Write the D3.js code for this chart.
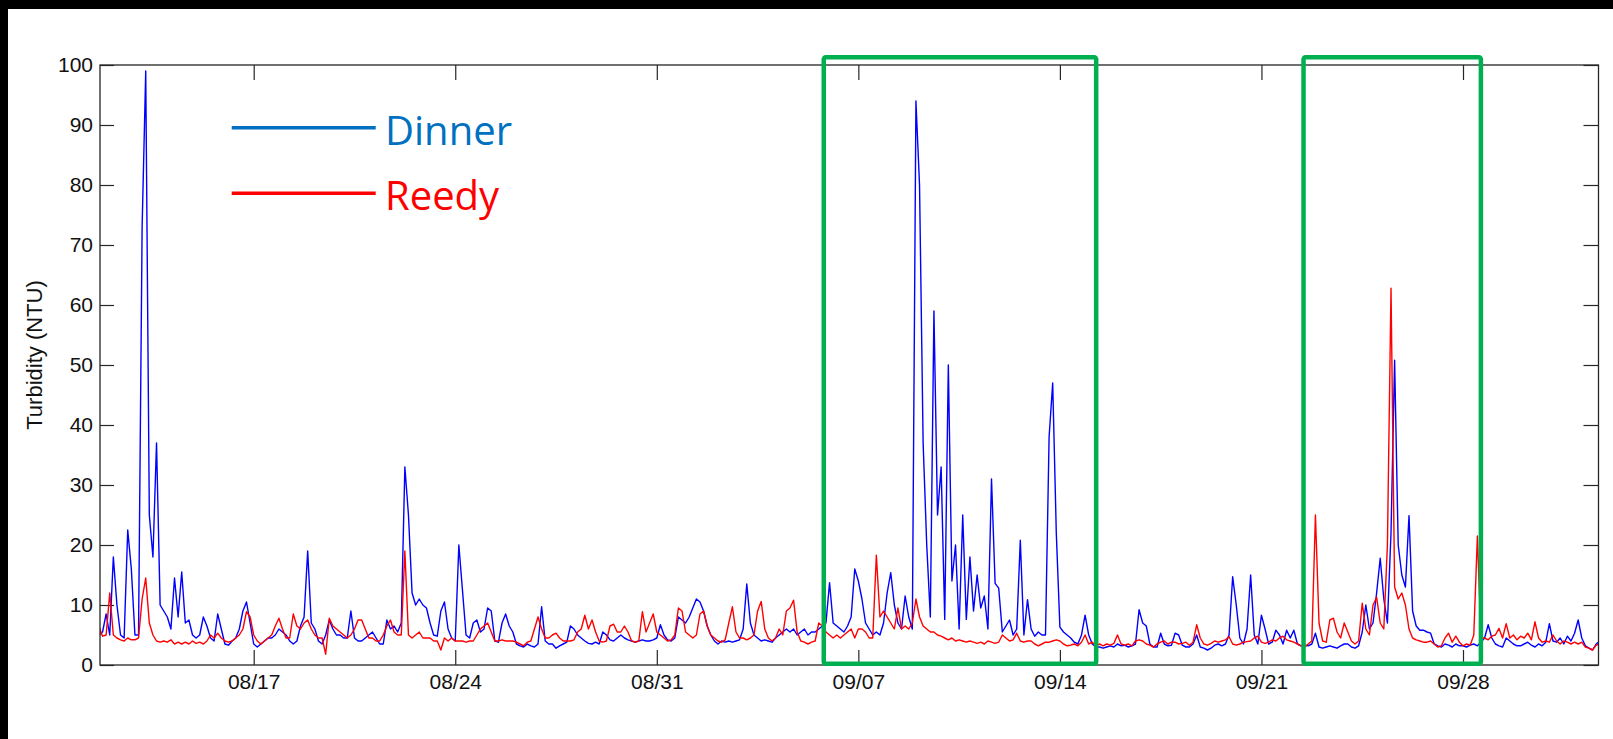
<!DOCTYPE html>
<html><head><meta charset="utf-8">
<script src="https://cdn.jsdelivr.net/npm/d3@7"></script>
<style>html,body{margin:0;padding:0;background:#000;overflow:hidden}</style>
</head><body>
<svg id="chart" width="1613" height="739"></svg>
<script>
// ---------------- data ----------------
const seriesNames = ["Dinner", "Reedy"];
const seriesColors = ["#0000ff", "#ff0000"];
const legendColors = ["#0070c0", "#ff0000"];
const startTime = new Date(2015, 7, 11, 15, 0);   // first sample
const stepHours = 3;                               // sampling interval
const xDomain = [new Date(2015, 7, 11, 15, 53), new Date(2015, 9, 2, 16, 57)];
const yTicks = [0, 10, 20, 30, 40, 50, 60, 70, 80, 90, 100];
const tickLabels = ["08/17", "08/24", "08/31", "09/07", "09/14", "09/21", "09/28"];
const highlightStarts = [new Date(2015, 8, 5, 19, 10), new Date(2015, 8, 22, 11, 5)];
const highlightEnds = [new Date(2015, 8, 15, 6, 15), new Date(2015, 8, 28, 14, 55)];
const highlightTop = 101.3, highlightBottom = 0.2;

const dinner = [
 5, 5.5, 8.5,
 5, 18, 10, 5, 4.5, 22.5, 16, 5,
 5, 73, 99, 25, 18, 37, 10, 9,
 8, 6, 14.5, 8, 15.5, 7, 7.5, 5,
 4.5, 5, 8, 6.5, 4.5, 4, 8.5, 6,
 3.5, 3.3, 4, 4.5, 6, 9, 10.5, 7,
 3.5, 3, 3.5, 4, 4.5, 4.5, 5, 6,
 5.5, 5, 4, 3.5, 4, 6.5, 8, 19,
 7, 6, 4, 3.5, 5, 7.5, 6, 5,
 5, 4.5, 4.5, 9, 4.5, 4, 4, 4.5,
 5, 5.5, 4.5, 3.5, 3.5, 7.5, 6, 6.5,
 5.5, 7, 33, 25, 12, 10, 11, 10,
 9.5, 7, 5, 4.8, 9, 10.5, 6, 4.5,
 4, 20, 12.5, 5, 4.5, 7, 7.5, 5.5,
 6, 9.5, 9, 4, 3.8, 7, 8.5, 6.5,
 5.5, 3.5, 3.2, 3, 3.5, 3.2, 3, 3.5,
 9.7, 4, 3.5, 3.5, 2.8, 3.2, 3.5, 3.8,
 6.5, 6, 5, 4.5, 4, 3.6, 3.5, 3.8,
 3.5, 5.5, 5, 4.2, 4, 4.5, 5, 4.5,
 4.2, 4, 3.8, 4, 4.2, 4, 4, 4.2,
 4.5, 6.7, 5, 4.2, 4, 4.5, 8, 7.5,
 7, 8, 9.5, 11, 10.5, 9, 6.5, 5,
 4, 3.5, 4, 3.8, 4, 3.8, 4, 4.2,
 6, 13.5, 7, 5, 4.5, 4, 4.2, 4,
 3.8, 4.5, 5, 5.5, 6, 5.5, 6, 5,
 5.5, 6, 5, 5.5, 5.5, 6, 6.5, 7,
 13.7, 7, 6.5, 6, 5.5, 6.5, 8, 16,
 14, 11, 7, 6, 5, 5.5, 5, 7,
 12, 15.4, 10, 7, 6, 11.5, 8, 6,
 94, 80, 37, 20, 8, 59, 25, 33,
 7.6, 50, 14, 20, 6, 25, 7.6, 18,
 9, 15, 9.5, 11.5, 6, 31, 13.6, 12.8,
 5.5, 6.5, 7.5, 5, 6, 20.8, 5, 10.9,
 6, 4.8, 5.5, 5, 5, 38, 47, 22,
 6.3, 5.5, 5, 4.5, 3.8, 3.5, 5, 8.3,
 5, 3.5, 3, 3, 2.8, 3, 3.2, 3,
 3.5, 3.2, 3.3, 3, 3.2, 3.5, 9.2, 7,
 6.5, 3.5, 3, 3, 5.3, 3.5, 3.2, 3.3,
 5.3, 5, 3.3, 3, 3, 3.5, 5, 3,
 2.8, 2.5, 2.8, 3.3, 3.5, 3.2, 3.5, 5,
 14.7, 10, 4.5, 3.5, 6, 15, 5, 3.5,
 8.3, 6, 3.5, 3.8, 5.8, 5, 3.5, 5.8,
 4.5, 5.8, 3.5, 3.2, 3.3, 3.2, 3.5, 5.3,
 3, 2.8, 3, 3.2, 3, 2.8, 3.2, 3.5,
 3.5, 3, 2.8, 3.2, 5.5, 10, 6, 7,
 12, 17.8, 11, 7, 22, 50.8, 20, 15,
 13, 24.9, 9, 6.5, 5.8, 5.8, 5.5, 5.3,
 3.5, 3.2, 3, 3.5, 3.3, 3, 3.5, 3.2,
 3.2, 3, 3.3, 3.5, 3.2, 3.8, 4.5, 6.7,
 4.5, 3.5, 3.2, 3, 4.5, 4, 3.5, 3.2,
 3.2, 3.5, 3.8, 3.3, 3, 3.5, 3.2, 3.8,
 6.9, 4, 3.8, 4.5, 3.5, 4.8, 4, 5.3,
 7.5, 4.5, 3.2, 2.8, 2.5, 3.5, 4
];

const reedy = [
 6.4, 4.8, 5,
 12, 5, 4.5, 4.2, 4, 4.5, 4.2, 4.2,
 4.5, 11, 14.5, 7, 5, 4, 3.8, 4,
 3.8, 4.2, 3.5, 3.8, 3.5, 3.8, 3.5, 4,
 3.6, 3.8, 3.5, 4, 5, 4.5, 5.3, 4.5,
 4, 3.8, 4, 4.5, 5, 6, 8.9, 8,
 5, 4, 3.5, 4, 4.5, 5, 6.5, 7.8,
 6, 4.5, 4.5, 8.5, 6.5, 6, 7, 7.5,
 6, 5, 4.5, 4.5, 1.8, 7.8, 6.5, 6,
 5.5, 5, 4.5, 5, 6, 7.5, 7.5, 6,
 4.5, 4.5, 4, 4, 5, 6.5, 7.5, 5.5,
 5, 5, 19, 5, 4.5, 5, 5.5, 4.5,
 4.5, 4.5, 4, 4, 2.5, 4.5, 4, 4.5,
 4, 4, 4, 3.8, 4, 4, 5, 6,
 6.5, 7, 5.5, 4, 4, 4.2, 4, 4,
 4, 3.8, 3.5, 3.2, 3.8, 4, 6, 8,
 6, 4.5, 4.5, 5, 5.3, 4.5, 4, 4,
 4, 4.2, 5.5, 6, 8.3, 6, 7.5, 5.5,
 4, 3.8, 4, 6.5, 6.8, 5.5, 5.5, 6.5,
 5.5, 4, 3.8, 4, 8.9, 5.5, 7, 8.5,
 5.5, 5, 4.5, 4, 4.2, 5, 9.5, 9,
 5.5, 5, 4.5, 5, 8.5, 9, 6.5, 5,
 4.5, 4, 3.8, 4.2, 7, 9.7, 5.5, 4.5,
 4.5, 4.2, 4.5, 5, 9, 10.6, 6, 4.5,
 4, 4.5, 6, 5, 9, 9.5, 10.8, 5.5,
 4, 3.8, 3.5, 3.8, 4, 7, 6.5, 5.5,
 5, 4.5, 5, 4.5, 5, 5.5, 6, 4.5,
 6, 6, 5.5, 4.5, 4.5, 18.3, 8, 9,
 8, 7, 6, 9.5, 6, 6.5, 6, 7,
 11, 8, 6.5, 6, 5.5, 5.5, 5, 4.8,
 4.5, 4.2, 4.5, 4, 4.2, 4, 3.8, 4,
 3.8, 3.6, 3.8, 3.5, 4, 3.8, 3.6, 3.8,
 5, 4.5, 4, 4.2, 5.3, 4, 3.8, 4,
 4, 3.5, 3.2, 3.5, 3.8, 3.8, 4, 4.2,
 4, 3.5, 3.2, 3.3, 3.5, 3.2, 3.8, 5,
 3.5, 3.8, 3.2, 3.5, 3.2, 3.5, 3.3, 3.6,
 5, 3.5, 3.3, 3.5, 3.2, 4, 4.2, 4,
 3.5, 3.3, 3, 3.5, 3.8, 4, 3.5, 3.8,
 3.8, 3.5, 3.6, 3.8, 3.3, 3.8, 6.7, 4.5,
 3.5, 3.3, 3.6, 4, 3.8, 4, 4.2, 4.7,
 3.5, 3.3, 3.5, 3.8, 3.9, 4, 4.5, 4.8,
 3.8, 3.6, 3.8, 4.2, 4, 4.5, 4.8, 4.2,
 4, 3.8, 3.5, 3.2, 3, 3.5, 4, 25,
 7, 4, 3.8, 7.5, 7.8, 5.5, 4.5, 7,
 5.5, 4, 3.5, 4, 10.3, 6, 5, 10,
 11.3, 7, 6, 20, 62.8, 13, 11, 12,
 10, 6, 4.5, 4.2, 4, 3.8, 3.8, 4,
 3.5, 3, 3.2, 4.5, 5.3, 3.8, 4.8, 3.8,
 3.2, 3.5, 3.3, 5, 21.5, 4.5, 4.5, 4.2,
 4.8, 5, 6.1, 4.5, 6.9, 4.5, 5, 4.2,
 4.8, 4.5, 5.3, 4.2, 7.2, 4.5, 3.8, 4,
 3.8, 5, 4, 3.5, 4, 3.8, 3.5, 3.8,
 3.5, 3.8, 3, 2.8, 2.5, 3.3, 3.5
];

// ---------------- layout ----------------
const W = 1613, H = 739;
const plot = {left: 100, right: 1598.5, top: 65, bottom: 665};
const svg = d3.select("#chart");

svg.append("rect").attr("x", 0).attr("y", 0).attr("width", W).attr("height", H).attr("fill", "#000");
svg.append("rect").attr("x", 8).attr("y", 9).attr("width", W - 8).attr("height", H - 9).attr("fill", "#fff");

const x = d3.scaleTime().domain(xDomain).range([plot.left, plot.right]);
const y = d3.scaleLinear().domain([0, 100]).range([plot.bottom, plot.top]);

const tickDates = tickLabels.map(s => { const [m, d] = s.split("/").map(Number); return new Date(2015, m - 1, d); });

svg.append("defs").append("clipPath").attr("id", "clip")
  .append("rect").attr("x", plot.left).attr("y", plot.top - 2)
  .attr("width", plot.right - plot.left).attr("height", plot.bottom - plot.top + 2);

const axisColor = "#262626";
const font = "'Liberation Sans', Arial, sans-serif";

// axes
const gB = svg.append("g").attr("transform", `translate(0,${plot.bottom})`)
  .call(d3.axisBottom(x).tickValues(tickDates).tickFormat((d, i) => tickLabels[i]).tickSize(-15).tickSizeOuter(0).tickPadding(9));
const gT = svg.append("g").attr("transform", `translate(0,${plot.top})`)
  .call(d3.axisTop(x).tickValues(tickDates).tickFormat("").tickSize(-15).tickSizeOuter(0));
const gL = svg.append("g").attr("transform", `translate(${plot.left},0)`)
  .call(d3.axisLeft(y).tickValues(yTicks).tickSize(-14).tickSizeOuter(0).tickPadding(7));
const gR = svg.append("g").attr("transform", `translate(${plot.right},0)`)
  .call(d3.axisRight(y).tickValues(yTicks).tickFormat("").tickSize(-15).tickSizeOuter(0));
[gB, gT, gL, gR].forEach(g => {
  g.select(".domain").remove();
  g.selectAll(".tick line").attr("stroke", axisColor).attr("stroke-width", 1.2);
  g.selectAll(".tick text").attr("fill", "#111").style("font-family", font).style("font-size", "21px");
});

// data lines
const toPoints = arr => arr.map((v, i) => ({t: new Date(startTime.getTime() + i * stepHours * 3600e3), v}));
const line = d3.line().x(d => x(d.t)).y(d => y(d.v));
const series = [dinner, reedy];
series.forEach((arr, k) => {
  svg.append("path").datum(toPoints(arr))
    .attr("clip-path", "url(#clip)")
    .attr("fill", "none").attr("stroke", seriesColors[k]).attr("stroke-width", 1.4)
    .attr("stroke-linejoin", "round")
    .attr("d", line);
});

// frame
svg.append("rect").attr("x", plot.left).attr("y", plot.top)
  .attr("width", plot.right - plot.left).attr("height", plot.bottom - plot.top)
  .attr("fill", "none").attr("stroke", axisColor).attr("stroke-width", 1.3);

// y label
svg.append("text").attr("transform", `translate(42,355) rotate(-90)`)
  .attr("text-anchor", "middle").style("font-family", font).style("font-size", "22px").attr("fill", "#111")
  .text("Turbidity (NTU)");

// highlight boxes
highlightStarts.forEach((s, i) => {
  svg.append("rect")
    .attr("x", x(s)).attr("y", y(highlightTop))
    .attr("width", x(highlightEnds[i]) - x(s)).attr("height", y(highlightBottom) - y(highlightTop))
    .attr("rx", 2).attr("fill", "none").attr("stroke", "#00b050").attr("stroke-width", 4.5);
});

// legend
const legendY = [127.7, 193.3];
seriesNames.forEach((name, k) => {
  svg.append("line").attr("x1", 231.7).attr("x2", 375.7).attr("y1", legendY[k]).attr("y2", legendY[k])
    .attr("stroke", legendColors[k]).attr("stroke-width", 3.5);
  svg.append("text").attr("x", 385).attr("y", legendY[k] + 17)
    .style("font-family", "'Open Sans', 'Noto Sans', sans-serif").style("font-size", "40px")
    .attr("fill", legendColors[k]).text(name);
});
</script>
</body></html>
